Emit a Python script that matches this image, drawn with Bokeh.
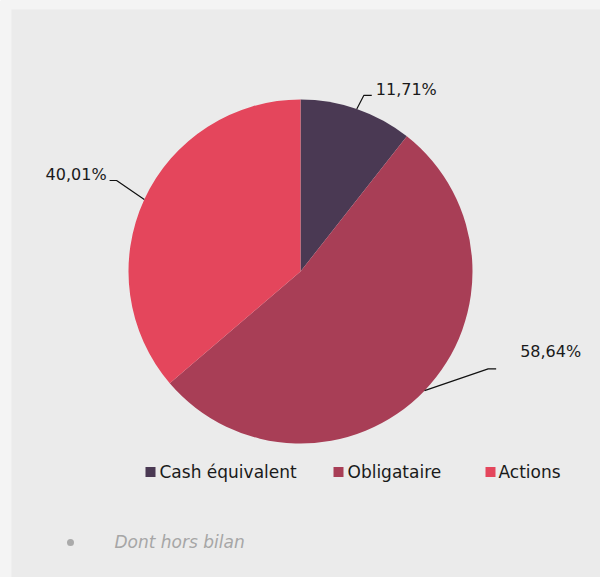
import math
from bokeh.plotting import figure
from bokeh.models import Range1d
from bokeh.core.properties import value
from bokeh.embed import file_html
from bokeh.resources import INLINE

# ---- data ----
categories = ["Cash équivalent", "Obligataire", "Actions"]
values = [11.71, 58.64, 40.01]
labels = ["11,71%", "58,64%", "40,01%"]
colors = ["#4a3953", "#a83e56", "#e4465c"]
footnote = "Dont hors bilan"

# ---- layout ----
W, H = 600, 577
OX, OY = 0, 577  # screen -> data: x = sx - OX, y = OY - sy
cx, cy, R = 300 - OX, OY - 271, 172
FONT = value("DejaVu Sans")

# per-slice leader geometry (elbow offset from edge point, tail length, text offset from tail end, align)
elbow_off = [(7, 13.5), (63.6, 21.8), (-27.7, 19)]
tail_len = [8, 8, -7]
text_off = [(4, 5.5), (24, 17), (-3, 6.5)]
text_align = ["left", "left", "right"]

legend_sq_x = [150, 338, 490]
legend_tx_x = [159, 347, 498]
legend_y = 471.5

p = figure(width=W, height=H, output_backend="svg", toolbar_location=None,
           x_range=Range1d(0, W), y_range=Range1d(0, H), min_border=0,
           background_fill_color="#ebebeb", border_fill_color="#ebebeb",
           outline_line_color=None)
p.axis.visible = False
p.grid.visible = False

# outer light strips
p.quad(left=0, right=11, bottom=0, top=H, fill_color="#f4f4f4", line_color=None)
p.quad(left=0, right=W, bottom=H - 9, top=H, fill_color="#f4f4f4", line_color=None)

total = sum(values)
cum = [0.0]
for v in values:
    cum.append(cum[-1] + v / total)

starts = [math.pi / 2 - 2 * math.pi * cum[i] for i in range(len(values))]
ends = [math.pi / 2 - 2 * math.pi * cum[i + 1] for i in range(len(values))]
p.wedge(x=[cx] * len(values), y=[cy] * len(values), radius=R,
        start_angle=starts, end_angle=ends, direction="clock",
        fill_color=colors, line_color=None)

xs, ys, tx, ty = [], [], [], []
for i in range(len(values)):
    mid = math.pi / 2 - 2 * math.pi * (cum[i] + cum[i + 1]) / 2
    ex, ey = cx + R * math.cos(mid), cy + R * math.sin(mid)
    bx, by = ex + elbow_off[i][0], ey + elbow_off[i][1]
    tx_end = bx + tail_len[i]
    xs.append([ex, bx, tx_end])
    ys.append([ey, by, by])
    tx.append(tx_end + text_off[i][0])
    ty.append(by + text_off[i][1])

p.multi_line(xs=xs, ys=ys, line_color="#111111", line_width=1.2)
for i in range(len(values)):
    p.text(x=[tx[i]], y=[ty[i]], text=[labels[i]], text_font=FONT,
           text_font_size="16px", text_color="#1a1a1a",
           text_align=text_align[i], text_baseline="middle")

# legend
p.rect(x=[sx - OX for sx in legend_sq_x], y=[OY - legend_y] * 3, width=10, height=10,
       fill_color=colors, line_color=None)
p.text(x=[sx - OX for sx in legend_tx_x], y=[OY - legend_y] * 3, text=categories,
       text_font=FONT, text_font_size="17px", text_color="#1a1a1a",
       text_align="left", text_baseline="middle")

# footnote
p.scatter(x=[70 - OX], y=[OY - 542], size=7, marker="circle",
          fill_color="#aaaaaa", line_color=None)
p.text(x=[114 - OX], y=[OY - 541], text=[footnote], text_font=FONT,
       text_font_size="17px", text_font_style="italic", text_color="#a6a6a6",
       text_align="left", text_baseline="middle")

open("out.html", "w").write(file_html(p, INLINE))
